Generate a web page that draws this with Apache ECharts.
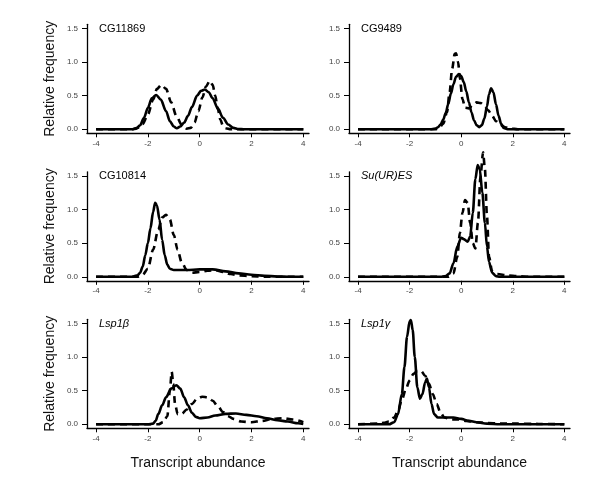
<!DOCTYPE html>
<html>
<head>
<meta charset="utf-8">
<script src="https://cdn.jsdelivr.net/npm/echarts@6/dist/echarts.min.js"></script>
<style>html,body{margin:0;padding:0;background:#fff;}#c{width:600px;height:486px;}</style>
</head>
<body>
<div id="c"></div>
<script>
// ---- tick labels ----
const xTicks = [-4, -2, 0, 2, 4];
const yTicks = [0, 0.5, 1.0, 1.5];
const panelTitles = ['CG11869', 'CG9489', 'CG10814', 'Su(UR)ES', 'Lsp1β', 'Lsp1γ'];
const xTitle = 'Transcript abundance';
const yTitle = 'Relative frequency';

// ---- series values: [transcript abundance, relative frequency] ----
const cg11869Solid = [[-4,0],[-2.6,0],[-2.45,0.01],[-2.3,0.06],[-2.15,0.17],[-2.0,0.32],[-1.85,0.46],[-1.68,0.51],[-1.5,0.44],[-1.3,0.27],[-1.15,0.12],[-1.0,0.04],[-0.88,0.015],[-0.75,0.04],[-0.6,0.1],[-0.45,0.2],[-0.3,0.33],[-0.1,0.5],[0.05,0.57],[0.2,0.59],[0.35,0.55],[0.5,0.46],[0.7,0.31],[0.9,0.17],[1.1,0.07],[1.3,0.02],[1.5,0.003],[1.7,0],[4,0]];
const cg11869Dash = [[-4,0],[-2.6,0],[-2.4,0.02],[-2.2,0.08],[-2.0,0.22],[-1.8,0.44],[-1.65,0.6],[-1.48,0.66],[-1.3,0.6],[-1.1,0.4],[-0.9,0.2],[-0.7,0.07],[-0.5,0.01],[-0.35,0.02],[-0.2,0.1],[-0.05,0.27],[0.1,0.47],[0.25,0.64],[0.39,0.72],[0.5,0.66],[0.6,0.5],[0.7,0.3],[0.8,0.14],[0.9,0.05],[1.0,0.015],[1.2,0],[4,0]];

const cg9489Solid = [[-4,0],[-1.2,0],[-1.0,0.01],[-0.9,0.03],[-0.8,0.07],[-0.7,0.14],[-0.6,0.24],[-0.5,0.38],[-0.4,0.53],[-0.3,0.67],[-0.2,0.78],[-0.09,0.82],[0.0,0.79],[0.1,0.7],[0.2,0.56],[0.3,0.4],[0.4,0.25],[0.5,0.13],[0.6,0.06],[0.7,0.03],[0.8,0.06],[0.9,0.16],[1.0,0.34],[1.08,0.52],[1.16,0.61],[1.25,0.55],[1.35,0.37],[1.45,0.2],[1.55,0.08],[1.65,0.02],[1.8,0],[4,0]];
const cg9489Dash = [[-4,0],[-1.0,0],[-0.85,0.02],[-0.7,0.08],[-0.55,0.25],[-0.45,0.55],[-0.35,0.9],[-0.25,1.12],[-0.2,1.13],[-0.12,1.0],[-0.05,0.75],[0.05,0.45],[0.15,0.32],[0.3,0.31],[0.45,0.36],[0.6,0.4],[0.75,0.39],[0.9,0.35],[1.05,0.28],[1.2,0.2],[1.35,0.12],[1.5,0.07],[1.7,0.03],[1.9,0.015],[2.2,0],[4,0]];

const cg10814Solid = [[-4,0],[-2.6,0],[-2.4,0.02],[-2.3,0.06],[-2.2,0.15],[-2.1,0.32],[-2.0,0.5],[-1.9,0.72],[-1.8,0.96],[-1.72,1.10],[-1.65,1.06],[-1.55,0.85],[-1.45,0.55],[-1.35,0.32],[-1.25,0.18],[-1.15,0.12],[-1.0,0.1],[-0.5,0.1],[0.0,0.11],[0.5,0.11],[1.0,0.08],[1.5,0.05],[2.0,0.03],[2.5,0.015],[3.0,0.005],[3.5,0],[4,0]];
const cg10814Dash = [[-4,0],[-2.4,0],[-2.2,0.03],[-2.0,0.12],[-1.8,0.4],[-1.6,0.7],[-1.45,0.88],[-1.3,0.92],[-1.15,0.85],[-1.0,0.62],[-0.85,0.4],[-0.7,0.22],[-0.5,0.1],[-0.3,0.06],[0.0,0.07],[0.3,0.09],[0.6,0.1],[0.9,0.07],[1.2,0.04],[1.5,0.02],[2.0,0.01],[2.5,0],[4,0]];

const suuresSolid = [[-4,0],[-0.8,0],[-0.6,0.01],[-0.45,0.05],[-0.3,0.2],[-0.15,0.45],[0.0,0.58],[0.1,0.56],[0.25,0.52],[0.35,0.6],[0.45,0.95],[0.55,1.45],[0.64,1.66],[0.72,1.6],[0.82,1.25],[0.92,0.8],[1.0,0.45],[1.08,0.22],[1.2,0.06],[1.35,0.01],[1.5,0],[4,0]];
const suuresDash = [[-4,0],[-0.5,0],[-0.3,0.05],[-0.15,0.3],[-0.05,0.65],[0.05,0.95],[0.15,1.14],[0.25,1.1],[0.35,0.8],[0.45,0.5],[0.55,0.42],[0.65,0.8],[0.75,1.5],[0.85,1.85],[0.92,1.6],[1.0,0.9],[1.08,0.3],[1.2,0.08],[1.4,0.04],[1.8,0.02],[2.2,0.01],[2.6,0],[4,0]];

const lsp1bSolid = [[-4,0],[-2.0,0],[-1.8,0.01],[-1.7,0.05],[-1.6,0.15],[-1.45,0.28],[-1.3,0.4],[-1.1,0.53],[-0.9,0.58],[-0.75,0.53],[-0.6,0.4],[-0.45,0.28],[-0.3,0.17],[-0.15,0.11],[0.0,0.09],[0.3,0.1],[0.6,0.13],[1.0,0.155],[1.4,0.16],[1.8,0.14],[2.2,0.12],[2.6,0.09],[3.0,0.06],[3.4,0.04],[3.8,0.015],[4,0.005]];
const lsp1bDash = [[-4,0],[-1.6,0],[-1.4,0.03],[-1.25,0.12],[-1.15,0.5],[-1.08,0.78],[-1.02,0.6],[-0.95,0.3],[-0.85,0.15],[-0.7,0.15],[-0.5,0.22],[-0.3,0.3],[-0.1,0.38],[0.1,0.41],[0.3,0.4],[0.5,0.35],[0.7,0.27],[0.9,0.18],[1.1,0.12],[1.3,0.08],[1.6,0.04],[2.0,0.03],[2.4,0.05],[2.8,0.08],[3.2,0.09],[3.6,0.07],[4.0,0.03]];

const lsp1gSolid = [[-4,0],[-2.8,0],[-2.6,0.03],[-2.45,0.15],[-2.3,0.45],[-2.2,0.85],[-2.1,1.3],[-2.0,1.53],[-1.95,1.55],[-1.88,1.4],[-1.8,1.0],[-1.7,0.55],[-1.6,0.38],[-1.5,0.45],[-1.4,0.62],[-1.33,0.68],[-1.25,0.55],[-1.15,0.3],[-1.05,0.15],[-0.9,0.1],[-0.6,0.1],[-0.3,0.1],[0.0,0.08],[0.3,0.05],[0.6,0.03],[1.0,0.01],[1.5,0],[4,0]];
const lsp1gDash = [[-4,0],[-3.2,0.01],[-3.0,0.02],[-2.8,0.04],[-2.6,0.1],[-2.45,0.2],[-2.3,0.36],[-2.15,0.52],[-2.0,0.65],[-1.85,0.75],[-1.7,0.79],[-1.55,0.79],[-1.4,0.72],[-1.25,0.6],[-1.1,0.45],[-0.95,0.3],[-0.8,0.17],[-0.65,0.1],[-0.4,0.07],[-0.1,0.07],[0.2,0.05],[0.6,0.03],[1.0,0.02],[1.5,0.01],[2.0,0.01],[3.0,0.005],[4,0]];

const solidSeries = [cg11869Solid, cg9489Solid, cg10814Solid, suuresSolid, lsp1bSolid, lsp1gSolid];
const dashSeries = [cg11869Dash, cg9489Dash, cg10814Dash, suuresDash, lsp1bDash, lsp1gDash];

// ---- layout ----
const colLeft = [87, 349];
const colWidth = [222, 221];
const rowTop = [24.3, 171.8, 319.3];
const gridH = 109;
const FONT = 'Liberation Sans, Arial, Helvetica, sans-serif';

const grids = [], xAxes = [], yAxes = [], series = [], titles = [];
for (let i = 0; i < 6; i++) {
  const col = i % 2, row = Math.floor(i / 2);
  grids.push({left: colLeft[col], top: rowTop[row], width: colWidth[col], height: gridH});
  xAxes.push({
    type: 'value', gridIndex: i, min: -4.35, max: 4.22,
    axisLine: {show: true, onZero: false, lineStyle: {color: '#000', width: 1.3}},
    axisTick: {show: true, length: 4, customValues: xTicks, lineStyle: {color: '#000', width: 1}},
    axisLabel: {show: true, customValues: xTicks, fontSize: 8, color: '#444', margin: 6, fontFamily: FONT,
      formatter: v => String(v)},
    splitLine: {show: false},
    name: row === 2 ? xTitle : '', nameLocation: 'middle', nameGap: 28,
    nameTextStyle: {fontSize: 14, color: '#111', fontFamily: FONT}
  });
  yAxes.push({
    type: 'value', gridIndex: i, min: -0.06, max: 1.56,
    axisLine: {show: true, onZero: false, lineStyle: {color: '#000', width: 1.3}},
    axisTick: {show: true, length: 5, customValues: yTicks, lineStyle: {color: '#000', width: 1}},
    axisLabel: {show: true, customValues: yTicks, fontSize: 8, color: '#444', margin: 9, fontFamily: FONT,
      formatter: v => v.toFixed(1)},
    splitLine: {show: false},
    name: col === 0 ? yTitle : '', nameLocation: 'middle', nameGap: 30,
    nameTextStyle: {fontSize: 14, color: '#111', fontFamily: FONT}
  });
  series.push({
    type: 'line', xAxisIndex: i, yAxisIndex: i, data: solidSeries[i], showSymbol: false,
    smooth: 0.3, smoothMonotone: 'x', clip: false, silent: true,
    lineStyle: {color: '#000', width: 2.6, type: 'solid'}
  });
  series.push({
    type: 'line', xAxisIndex: i, yAxisIndex: i, data: dashSeries[i], showSymbol: false,
    smooth: 0.3, smoothMonotone: 'x', clip: false, silent: true,
    lineStyle: {color: '#000', width: 2.6, type: [7, 5]}
  });
  const italic = i >= 3;
  titles.push({
    text: panelTitles[i], left: colLeft[col] + 12, top: rowTop[row] - 1, padding: 0,
    textStyle: {fontSize: 11, fontWeight: 'normal', fontStyle: italic ? 'italic' : 'normal', color: '#000', fontFamily: FONT}
  });
}

const chart = echarts.init(document.getElementById('c'), null, {renderer: 'canvas'});
chart.setOption({
  animation: false,
  backgroundColor: '#fff',
  title: titles,
  grid: grids,
  xAxis: xAxes,
  yAxis: yAxes,
  series: series
});
</script>
</body>
</html>
